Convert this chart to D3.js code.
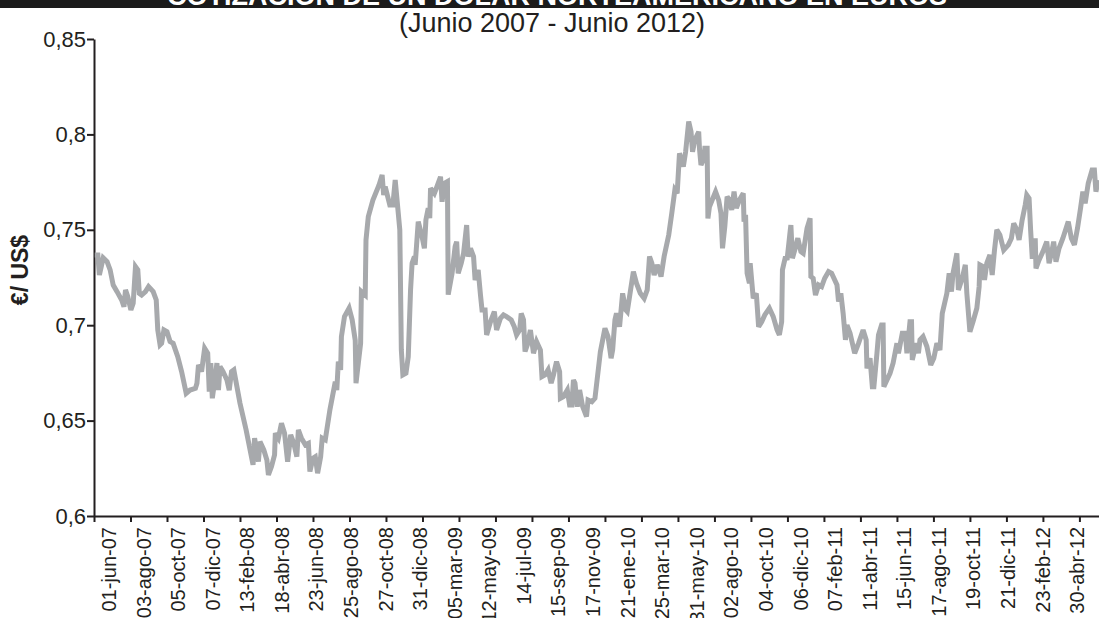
<!DOCTYPE html>
<html><head><meta charset="utf-8">
<script src="https://cdn.jsdelivr.net/npm/d3@7"></script>
<style>body{margin:0;background:#fff} svg{display:block}</style>
</head><body><svg id="c" width="1099" height="618"></svg>
<script>
const titleText = "COTIZACIÓN DE UN DÓLAR NORTEAMERICANO EN EUROS";
const subtitleText = "(Junio 2007 - Junio 2012)";
const yAxisTitle = "€/ US$";
const dateLabels = ["01-jun-07","03-ago-07","05-oct-07","07-dic-07","13-feb-08","18-abr-08","23-jun-08","25-ago-08","27-oct-08","31-dic-08","05-mar-09","12-may-09","14-jul-09","15-sep-09","17-nov-09","21-ene-10","25-mar-10","31-may-10","02-ago-10","04-oct-10","06-dic-10","07-feb-11","11-abr-11","15-jun-11","17-ago-11","19-oct-11","21-dic-11","23-feb-12","30-abr-12"];
const labelStep = 45;      // trading days between date labels
const tickStep = 47.5;     // trading days between tick marks
const totalDays = 1308;
const yTicks = [0.6, 0.65, 0.7, 0.75, 0.8, 0.85];
const yTickLabels = ["0,6", "0,65", "0,7", "0,75", "0,8", "0,85"];

// trading-day index and €/US$ value
const days = [1,5,7,12,17,21,25,30,36,39,41,44,48,51,54,57,59,62,67,71,77,81,83,86,88,91,95,99,103,109,114,120,125,132,134,136,140,144,148,150,152,154,157,160,162,164,168,173,176,179,182,184,190,198,207,209,214,216,221,225,227,231,235,236,240,244,248,252,256,260,264,266,270,275,279,281,285,288,291,295,297,301,307,314,316,318,321,322,326,332,336,340,341,344,347,348,353,354,357,363,371,375,377,379,385,389,392,394,398,400,402,406,409,412,414,417,418,422,427,430,432,435,437,438,443,448,451,453,456,460,461,466,470,472,474,478,481,485,487,490,494,496,500,503,505,509,511,516,521,524,529,533,537,543,547,550,554,556,559,561,564,568,572,576,581,583,587,591,595,598,602,606,607,611,616,619,622,624,626,629,632,636,641,643,648,652,657,659,665,669,673,675,678,680,684,688,692,694,698,702,706,711,716,720,723,726,729,733,738,742,748,752,756,759,762,767,770,774,777,779,782,787,788,790,794,795,798,799,801,809,813,816,818,821,824,827,830,833,836,840,845,846,848,850,853,854,858,862,865,869,873,879,884,889,892,895,896,900,902,906,907,909,912,916,920,923,928,932,933,936,939,943,947,951,956,960,967,969,972,975,978,980,984,990,995,1001,1005,1006,1010,1013,1015,1019,1021,1025,1027,1028,1032,1036,1040,1045,1047,1052,1056,1058,1062,1064,1065,1070,1073,1075,1079,1084,1089,1093,1097,1101,1104,1110,1113,1116,1118,1123,1125,1130,1134,1136,1140,1144,1149,1152,1153,1157,1159,1162,1166,1169,1172,1175,1179,1184,1190,1194,1197,1201,1204,1208,1212,1214,1217,1219,1221,1224,1225,1226,1230,1235,1240,1243,1247,1249,1252,1256,1261,1268,1272,1276,1280,1284,1287,1290,1294,1299,1302,1304,1307];
const rates = [0.7368,0.7368,0.7263,0.7353,0.7333,0.729,0.721,0.7176,0.7132,0.7097,0.7185,0.715,0.708,0.7115,0.7307,0.729,0.7167,0.7158,0.7176,0.7202,0.7176,0.7132,0.6975,0.6897,0.6905,0.6975,0.6966,0.6914,0.6905,0.6835,0.6757,0.6643,0.666,0.6669,0.6696,0.6792,0.6757,0.6879,0.6853,0.6652,0.6801,0.6617,0.6704,0.6801,0.666,0.6783,0.6757,0.6713,0.666,0.6757,0.6766,0.6722,0.6591,0.6451,0.6268,0.6408,0.6285,0.639,0.6346,0.6294,0.6215,0.6259,0.632,0.6434,0.6408,0.6486,0.6434,0.6285,0.6425,0.6381,0.6311,0.6451,0.6408,0.6373,0.6381,0.6233,0.6303,0.6311,0.6224,0.6311,0.6408,0.6399,0.6556,0.6704,0.666,0.6809,0.6766,0.694,0.7045,0.7089,0.7028,0.692,0.6696,0.6801,0.6905,0.7176,0.7158,0.7447,0.7569,0.7656,0.7735,0.7787,0.7682,0.7726,0.763,0.763,0.7761,0.7674,0.75,0.687,0.6739,0.6748,0.6835,0.7185,0.7325,0.736,0.7316,0.7543,0.7464,0.7403,0.7552,0.7613,0.7561,0.7718,0.7691,0.7744,0.7778,0.7647,0.7744,0.7753,0.716,0.7272,0.7412,0.7438,0.7272,0.7325,0.7377,0.7525,0.736,0.7403,0.736,0.7237,0.729,0.7158,0.708,0.708,0.6949,0.7018,0.7071,0.6975,0.7036,0.7054,0.7045,0.7028,0.6992,0.6949,0.6975,0.7062,0.7028,0.6862,0.6897,0.6975,0.6853,0.6914,0.687,0.6731,0.674,0.6766,0.6696,0.674,0.6809,0.6757,0.6617,0.6626,0.666,0.6582,0.6582,0.6713,0.6696,0.6573,0.666,0.6573,0.6521,0.6608,0.6599,0.6617,0.679,0.686,0.6984,0.694,0.6827,0.687,0.7028,0.7062,0.6992,0.7167,0.708,0.7071,0.7176,0.7281,0.722,0.7167,0.7141,0.7185,0.736,0.7325,0.7263,0.7316,0.7255,0.736,0.7473,0.7587,0.7709,0.7691,0.7901,0.7831,0.7909,0.8067,0.8014,0.7909,0.7971,0.8014,0.7927,0.784,0.7875,0.7927,0.7927,0.756,0.7621,0.77,0.7656,0.7587,0.7403,0.7517,0.7674,0.7656,0.7604,0.77,0.7613,0.7656,0.7691,0.7543,0.7578,0.7272,0.722,0.7325,0.7141,0.7167,0.6992,0.7018,0.7054,0.7089,0.7045,0.6975,0.6949,0.7018,0.729,0.736,0.7342,0.7491,0.7525,0.7351,0.7394,0.7456,0.7386,0.7377,0.7508,0.7561,0.7255,0.7246,0.7158,0.7211,0.7202,0.7246,0.7281,0.7272,0.7211,0.7124,0.7167,0.7062,0.6923,0.7001,0.6958,0.6853,0.6905,0.6975,0.6923,0.6774,0.6827,0.6678,0.6678,0.6853,0.6949,0.7001,0.7001,0.6678,0.6713,0.6748,0.6801,0.6905,0.6853,0.6958,0.6958,0.6853,0.7018,0.7018,0.6818,0.6905,0.6853,0.6923,0.694,0.6888,0.6792,0.6827,0.6905,0.687,0.7062,0.7167,0.7272,0.7176,0.7272,0.7377,0.7185,0.7246,0.7316,0.7167,0.6966,0.7018,0.7089,0.7202,0.7316,0.7307,0.7237,0.7325,0.7368,0.7263,0.7394,0.75,0.7473,0.7394,0.7421,0.7456,0.7534,0.75,0.7447,0.7552,0.763,0.7682,0.7665,0.75,0.736,0.736,0.7456,0.7298,0.7342,0.7386,0.7438,0.7325,0.7394,0.7438,0.7333,0.7403,0.7456,0.7543,0.7456,0.7421,0.7508,0.7613,0.77,0.7639,0.7744,0.7813,0.7813,0.77,0.7761];

const ink = "#231f20";
const font = "'Liberation Sans', Arial, sans-serif";
const svg = d3.select("#c");
const W = 1099, H = 618;
const plot = {left: 94, right: 1099, top: 39, bottom: 516};

const x = d3.scaleLinear().domain([0, totalDays]).range([plot.left, plot.right]);
const y = d3.scaleLinear().domain([0.6, 0.85]).range([plot.bottom, plot.top]);

// title bar (cropped at top, as in the original)
svg.append("rect").attr("x", 0).attr("y", 0).attr("width", W).attr("height", 8).attr("fill", "#1b1b1b");
svg.append("text").attr("x", 557).attr("y", 5).attr("text-anchor", "middle")
  .attr("font-family", font).attr("font-weight", "bold").attr("font-size", 27).attr("fill", "#fff")
  .text(titleText);
svg.append("text").attr("x", 552).attr("y", 32).attr("text-anchor", "middle")
  .attr("font-family", font).attr("font-size", 27).attr("fill", ink)
  .text(subtitleText);

// y axis
const yAxis = svg.append("g").attr("transform", `translate(${plot.left},0)`)
  .call(d3.axisLeft(y).tickValues(yTicks).tickFormat((d, i) => yTickLabels[i]).tickSize(7).tickPadding(1).tickSizeOuter(0));
yAxis.select(".domain").attr("stroke", ink).attr("stroke-width", 2);
yAxis.selectAll(".tick line").attr("stroke", ink).attr("stroke-width", 2);
yAxis.selectAll(".tick text").attr("font-family", font).attr("font-size", 22).attr("fill", ink);

// x axis
const tickVals = d3.range(0, totalDays, tickStep);
const xAxis = svg.append("g").attr("transform", `translate(0,${plot.bottom})`)
  .call(d3.axisBottom(x).tickValues(tickVals).tickFormat("").tickSize(6).tickSizeOuter(0));
xAxis.select(".domain").attr("stroke", ink).attr("stroke-width", 2);
xAxis.selectAll(".tick line").attr("stroke", ink).attr("stroke-width", 2);

svg.append("g").selectAll("text").data(dateLabels).join("text")
  .attr("transform", (d, i) => `translate(${x(i * labelStep) + 15},527) rotate(-90)`)
  .attr("text-anchor", "end").attr("dy", "0.35em")
  .attr("font-family", font).attr("font-size", 20).attr("fill", ink)
  .text(d => d);

// y axis title
svg.append("text").attr("transform", "translate(20,270) rotate(-90)")
  .attr("text-anchor", "middle").attr("dy", "0.35em")
  .attr("font-family", font).attr("font-weight", "bold").attr("font-size", 23).attr("fill", ink)
  .text(yAxisTitle);

// series
const pts = days.map((d, i) => [d, rates[i]]);
svg.append("path").datum(pts)
  .attr("fill", "none").attr("stroke", "#a7a9ac").attr("stroke-width", 5)
  .attr("stroke-linejoin", "miter").attr("stroke-miterlimit", 3)
  .attr("d", d3.line().x(d => x(d[0])).y(d => y(d[1])));
</script></body></html>
